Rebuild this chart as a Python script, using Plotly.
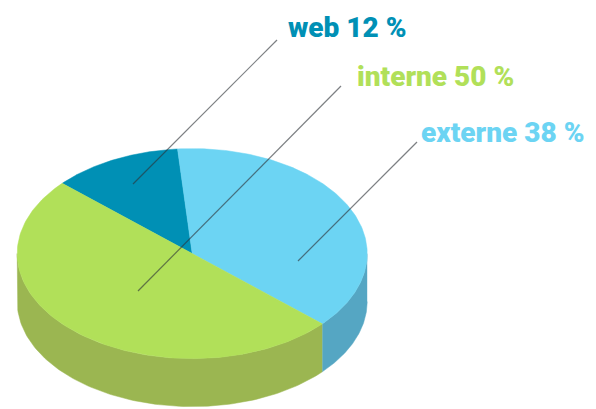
import numpy as np
import plotly.graph_objects as go

# Traffic sources, clockwise from the upper-left edge of the disc
categories = ["web", "externe", "interne"]
shares = [12, 38, 50]
top_colors = ["#0090B5", "#6CD4F3", "#B1E059"]
wall_colors = ["#0A7A99", "#55A6C3", "#9BB651"]

# Disc geometry in page pixels
CX, CY = 192.2, 253.6
RX, RY = 175, 105
DEPTH = 48
START_DEG = -48

# Callouts: label text anchor and the leader that links it to its slice
label_x = [286, 419, 355]
label_y = [27, 132, 76]
leader_x = [[277, 133], [417, 298], [341, 138]]
leader_y = [[40, 184], [142, 261], [86, 291]]


def rim(theta_deg, drop=0.0):
    # theta is measured clockwise from the top of the ellipse
    t = np.radians(theta_deg)
    return CX + RX * np.sin(t), CY - RY * np.cos(t) + drop


fig = go.Figure()

spans = np.array(shares) / sum(shares) * 360
edges = START_DEG + np.concatenate([[0], np.cumsum(spans)])

# Side wall: only the part of each slice facing the viewer (90 to 270 degrees)
for i, name in enumerate(categories):
    lo, hi = edges[i], edges[i + 1]
    a, b = max(lo, 90), min(hi, 270)
    if a >= b:
        continue
    th = np.linspace(a, b, 120)
    x1, y1 = rim(th)
    x2, y2 = rim(th[::-1], DEPTH)
    fig.add_trace(go.Scatter(
        x=np.concatenate([x1, x2]), y=np.concatenate([y1, y2]),
        mode="lines", fill="toself", fillcolor=wall_colors[i],
        line=dict(width=0.5, color=wall_colors[i]), hoverinfo="skip", showlegend=False,
    ))

# Top face of the disc
for i, name in enumerate(categories):
    th = np.linspace(edges[i], edges[i + 1], 160)
    x1, y1 = rim(th)
    fig.add_trace(go.Scatter(
        x=np.concatenate([[CX], x1, [CX]]), y=np.concatenate([[CY], y1, [CY]]),
        mode="lines", fill="toself", fillcolor=top_colors[i],
        line=dict(width=0.5, color=top_colors[i]),
        name=name, hoverinfo="name", showlegend=False,
    ))

# Leaders
for xs, ys in zip(leader_x, leader_y):
    fig.add_trace(go.Scatter(
        x=xs, y=ys, mode="lines",
        line=dict(color="rgba(45,50,55,0.62)", width=1.2),
        hoverinfo="skip", showlegend=False,
    ))

for i, name in enumerate(categories):
    fig.add_annotation(
        x=label_x[i], y=label_y[i], xref="x", yref="y",
        text=f"{name} {shares[i]} %", showarrow=False,
        xanchor="left", yanchor="middle",
        font=dict(family="Roboto, Open Sans, sans-serif", size=28, weight=900, color=top_colors[i]),
    )

fig.update_layout(
    width=596, height=409, margin=dict(l=0, r=0, t=0, b=0),
    paper_bgcolor="white", plot_bgcolor="white",
    xaxis=dict(range=[0, 596], visible=False, fixedrange=True),
    yaxis=dict(range=[409, 0], visible=False, fixedrange=True),
)

fig.write_html("out.html", config=dict(displayModeBar=False))
